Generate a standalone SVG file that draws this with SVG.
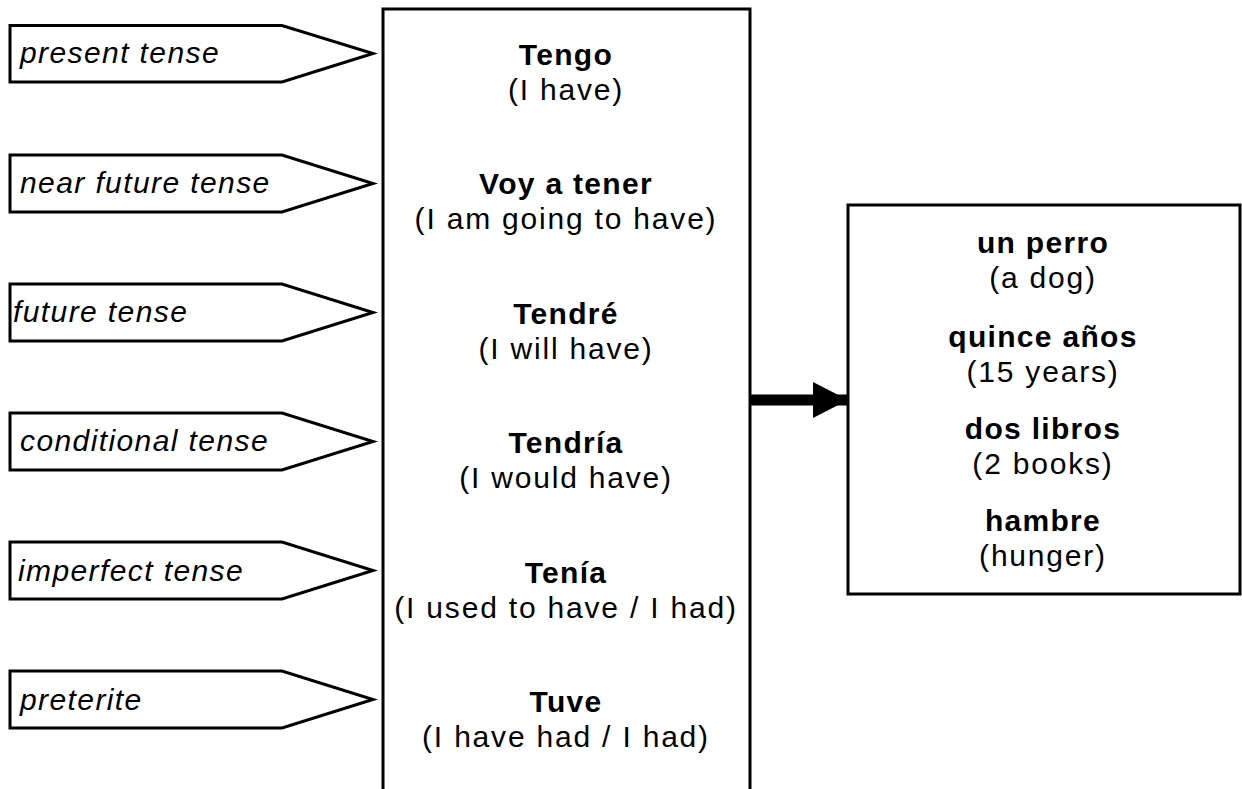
<svg xmlns="http://www.w3.org/2000/svg" width="1242" height="789" viewBox="0 0 1242 789">
<style>
.tag{fill:#fff;stroke:#000;stroke-width:3;stroke-linejoin:miter}
.box{fill:#fff;stroke:#000;stroke-width:3}
.lbl{font-family:"Liberation Sans",Arial,sans-serif;font-style:italic;font-size:30px;letter-spacing:1.4px;fill:#000}
.b{font-family:"Liberation Sans",Arial,sans-serif;font-weight:bold;font-size:30px;letter-spacing:1.3px;fill:#000;text-anchor:middle}
.n{font-family:"Liberation Sans",Arial,sans-serif;font-size:30px;letter-spacing:1.8px;fill:#000;text-anchor:middle}
</style>
<defs>
<marker id="ah" markerWidth="35" markerHeight="36" refX="35" refY="18" orient="auto" markerUnits="userSpaceOnUse">
<path d="M0,0 L35,18 L0,36 Z" fill="#000"/>
</marker>
</defs>
<rect width="1242" height="789" fill="#fff"/>
<g id="main">
<rect class="box" x="383" y="9" width="367" height="800"/>
<text class="b" x="566" y="65">Tengo</text><text class="n" x="566" y="100">(I have)</text>
<text class="b" x="566" y="194">Voy a tener</text><text class="n" x="566" y="229">(I am going to have)</text>
<text class="b" x="566" y="324">Tendré</text><text class="n" x="566" y="359">(I will have)</text>
<text class="b" x="566" y="453">Tendría</text><text class="n" x="566" y="488">(I would have)</text>
<text class="b" x="566" y="583">Tenía</text><text class="n" x="566" y="618">(I used to have / I had)</text>
<text class="b" x="566" y="712">Tuve</text><text class="n" x="566" y="747">(I have had / I had)</text>
</g>
<g id="objects">
<rect class="box" x="848" y="205" width="392" height="389"/>
<text class="b" x="1043" y="253">un perro</text><text class="n" x="1043" y="288">(a dog)</text>
<text class="b" x="1043" y="347">quince años</text><text class="n" x="1043" y="382">(15 years)</text>
<text class="b" x="1043" y="439">dos libros</text><text class="n" x="1043" y="474">(2 books)</text>
<text class="b" x="1043" y="531">hambre</text><text class="n" x="1043" y="566">(hunger)</text>
</g>
<g id="t1"><path class="tag" d="M10,25.5 H282 L373,53.5 L282,82 H10 Z"/><text class="lbl" x="20" y="63">present tense</text></g>
<g id="t2"><path class="tag" d="M10,155 H282 L373,183.5 L282,212 H10 Z"/><text class="lbl" x="20" y="193">near future tense</text></g>
<g id="t3"><path class="tag" d="M10,284 H282 L373,312.5 L282,341 H10 Z"/><text class="lbl" x="13" y="322">future tense</text></g>
<g id="t4"><path class="tag" d="M10,413 H282 L373,441.5 L282,470 H10 Z"/><text class="lbl" x="20" y="451">conditional tense</text></g>
<g id="t5"><path class="tag" d="M10,542 H282 L373,570.5 L282,599 H10 Z"/><text class="lbl" x="18" y="581">imperfect tense</text></g>
<g id="t6"><path class="tag" d="M10,671 H282 L373,699.5 L282,728 H10 Z"/><text class="lbl" x="20" y="710">preterite</text></g>
<g id="connectors">
<line x1="750" y1="400" x2="848" y2="400" stroke="#000" stroke-width="11" marker-end="url(#ah)"/>
</g>
</svg>
